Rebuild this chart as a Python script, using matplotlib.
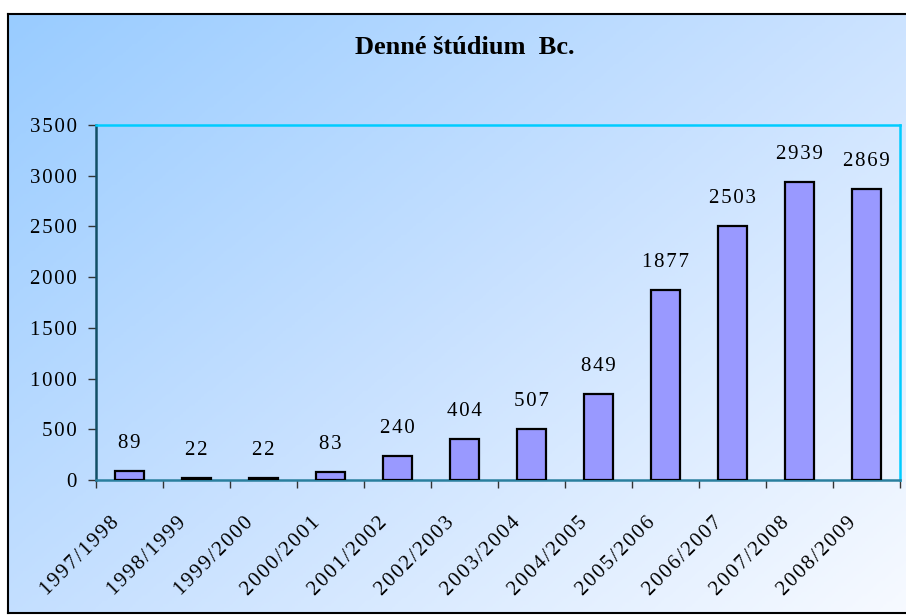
import numpy as np
import matplotlib
matplotlib.use("Agg")
import matplotlib.pyplot as plt
from matplotlib.colors import LinearSegmentedColormap

years = ["1997/1998", "1998/1999", "1999/2000", "2000/2001", "2001/2002", "2002/2003",
         "2003/2004", "2004/2005", "2005/2006", "2006/2007", "2007/2008", "2008/2009"]
students = [89, 22, 22, 83, 240, 404, 507, 849, 1877, 2503, 2939, 2869]
y_ticks = [0, 500, 1000, 1500, 2000, 2500, 3000, 3500]

plt.rcParams['font.family'] = ['Liberation Serif', 'DejaVu Serif']


def spaced(s):
    # the original text is letter-spaced a little
    return "\u200a".join(s)


W, H = 906, 615
fig = plt.figure(figsize=(W / 100, H / 100), dpi=100)
fig.patch.set_facecolor("white")

# background with diagonal gradient and black frame
bg = fig.add_axes([8 / W, 2 / H, 1 - 8 / W + 0.01, (613 - 14) / H])
bg.set_zorder(0)
cmap = LinearSegmentedColormap.from_list("bg", ["#99CCFF", "#C8E1FF", "#F7FAFF"])
gx, gy = np.meshgrid(np.linspace(0, 1, 300), np.linspace(0, 1, 200))
grad = 0.55 * gx + 0.45 * gy
bg.imshow(grad, cmap=cmap, aspect="auto", extent=[0, 1, 0, 1], origin="upper")
bg.set_xlim(0, 1)
bg.set_ylim(0, 1)
bg.set_xticks([])
bg.set_yticks([])
for s in bg.spines.values():
    s.set_color("black")
    s.set_linewidth(1.5)

ax = fig.add_axes([96 / W, 1 - 480 / H, (900 - 96) / W, (480 - 125) / H])
ax.set_zorder(1)
ax.patch.set_alpha(0)

x = np.arange(len(years))
ax.bar(x, students, width=0.43, color="#9999FF", edgecolor="black", linewidth=1.6, zorder=3)

for xi, v in zip(x, students):
    ax.annotate(spaced(str(v)), (xi, v), xytext=(0, 13), textcoords="offset points",
                ha="center", va="bottom", fontsize=15)

ax.set_xlim(-0.5, len(years) - 0.5)
ax.set_ylim(0, 3500)
ax.set_yticks(y_ticks)
ax.set_yticklabels([spaced(str(t)) for t in y_ticks], fontsize=15)
ax.tick_params(axis="y", length=6, width=1, color="#333333", pad=8)

ax.set_xticks(list(x - 0.5) + [len(years) - 0.5])
ax.set_xticklabels([])
ax.tick_params(axis="x", length=6, width=1, color="#333333")
for xi, lab in zip(x, years):
    ax.text(xi - 0.3, -330, spaced(lab), rotation=45, ha="right", va="top",
            rotation_mode="anchor", fontsize=15)

ax.spines["left"].set_color("#124f66")
ax.spines["bottom"].set_color("#2a7f9e")
ax.spines["top"].set_color("#00CCFF")
ax.spines["right"].set_color("#00CCFF")
for s in ax.spines.values():
    s.set_linewidth(1.8)

fig.text(0.513, 0.922, "Denné štúdium  Bc.", ha="center", va="center",
         fontsize=19, fontweight="bold")

fig.savefig("out.png", dpi=100)
